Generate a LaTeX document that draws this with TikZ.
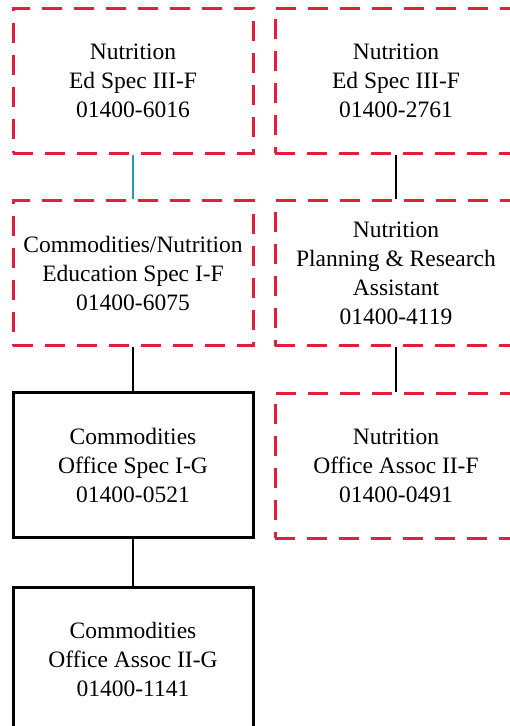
\documentclass[tikz,border=0pt]{standalone}
\usepackage{fontspec}
\setmainfont{Liberation Serif}
\definecolor{dashred}{RGB}{226,30,58}
\definecolor{linkblue}{RGB}{40,150,190}
\begin{document}
\begin{tikzpicture}[x=1pt,y=-1pt,
  vacant/.style={draw=dashred, line width=3pt, dash pattern=on 20pt off 12pt,
    minimum width=240pt, minimum height=145pt, align=center,
    font=\fontsize{23.5}{29}\selectfont},
  filled/.style={vacant, draw=black, solid},
  link/.style={line width=2pt}]
\useasboundingbox (0,0) rectangle (510,726);
\clip (0,0) rectangle (510,726);
%
\node[vacant] (ed1) at (133,80.5) {Nutrition\\Ed Spec III-F\\01400-6016};
\node[vacant] (comnut) at (133,273) {Commodities/Nutrition\\Education Spec I-F\\01400-6075};
\node[filled] (comspec) at (133,465) {Commodities\\Office Spec I-G\\01400-0521};
\node[filled] (comassoc) at (133,659.5) {Commodities\\Office Assoc II-G\\01400-1141};
\draw[link, linkblue] (ed1.south) -- (comnut.north);
\draw[link] (comnut.south) -- (comspec.north);
\draw[link] (comspec.south) -- (comassoc.north);
%
\node[vacant, minimum width=242pt] (ed2) at (396,80.5) {Nutrition\\Ed Spec III-F\\01400-2761};
\node[vacant, minimum width=242pt] (plan) at (396,273) {Nutrition\\Planning \& Research\\Assistant\\01400-4119};
\node[vacant, minimum width=242pt] (nutassoc) at (396,465.5) {Nutrition\\Office Assoc II-F\\01400-0491};
\draw[link] (ed2.south) -- (plan.north);
\draw[link] (plan.south) -- (nutassoc.north);
\end{tikzpicture}
\end{document}
